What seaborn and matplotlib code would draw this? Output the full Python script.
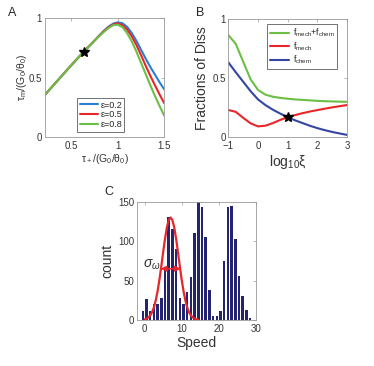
import numpy as np
import matplotlib
matplotlib.use("Agg")
import matplotlib.pyplot as plt
import seaborn as sns
import pandas as pd

sns.set_style("white")
plt.rcParams['font.family'] = ['Liberation Sans', 'DejaVu Sans']
plt.rcParams['mathtext.fontset'] = 'custom'
plt.rcParams['mathtext.rm'] = 'Liberation Sans'
plt.rcParams['mathtext.it'] = 'Liberation Sans:italic'
plt.rcParams['mathtext.sf'] = 'Liberation Sans'

# ---- panel A data
tau_plus = [0.2, 0.25, 0.3, 0.35, 0.4, 0.45, 0.5, 0.55, 0.6, 0.65, 0.7, 0.75,
            0.8, 0.85, 0.9, 0.95, 1.0, 1.05, 1.1, 1.15, 1.2, 1.25, 1.3, 1.35, 1.4, 1.45, 1.5]
tau_rise = [0.342, 0.386, 0.43, 0.474, 0.518, 0.562, 0.605, 0.648, 0.69, 0.732, 0.773, 0.813]
tau_m_02 = tau_rise + [0.855, 0.895, 0.93, 0.955, 0.966, 0.958, 0.928, 0.875, 0.81, 0.735, 0.66, 0.59, 0.525, 0.46, 0.40]
tau_m_05 = tau_rise + [0.853, 0.891, 0.924, 0.948, 0.957, 0.942, 0.905, 0.848, 0.775, 0.69, 0.60, 0.515, 0.435, 0.357, 0.283]
tau_m_08 = tau_rise + [0.85, 0.886, 0.918, 0.942, 0.946, 0.925, 0.875, 0.805, 0.72, 0.625, 0.53, 0.435, 0.345, 0.26, 0.178]
eps_labels = ["ε=0.2", "ε=0.5", "ε=0.8"]
star_a = (0.632, 0.718)

# ---- panel B data
log_xi = [-1, -0.75, -0.5, -0.25, 0, 0.25, 0.5, 0.75, 1, 1.25, 1.5, 1.75, 2, 2.25, 2.5, 2.75, 3]
f_total = [0.865, 0.79, 0.64, 0.49, 0.40, 0.36, 0.343, 0.333, 0.326, 0.32, 0.316, 0.312, 0.308, 0.305, 0.303, 0.301, 0.30]
f_mech = [0.231, 0.215, 0.165, 0.118, 0.092, 0.098, 0.12, 0.147, 0.17, 0.188, 0.204, 0.218, 0.23, 0.242, 0.253, 0.263, 0.273]
f_chem = [0.634, 0.55, 0.47, 0.39, 0.32, 0.272, 0.233, 0.2, 0.17, 0.143, 0.12, 0.097, 0.077, 0.06, 0.045, 0.032, 0.02]
star_b = (1.0, 0.174)

# ---- panel C data
speed_bins = [-0.5, 0.5, 1.5, 2.5, 3.5, 4.5, 5.5, 6.5, 7.5, 8.5, 9.5, 10.5, 11.5, 12.5, 13.5,
              14.5, 15.5, 16.5, 17.5, 18.5, 19.5, 20.5, 21.5, 22.5, 23.5, 24.5, 25.5, 26.5, 27.5, 28.5]
counts = [11, 26, 12, 20, 20, 28, 63, 130, 115, 90, 28, 20, 36, 55, 110,
          150, 143, 105, 38, 5, 5, 12, 75, 143, 145, 103, 56, 31, 13, 3]
fit_x = [0, 0.5, 1, 1.5, 2, 2.5, 3, 3.5, 4, 4.5, 5, 5.5, 6, 6.5, 7,
         7.5, 8, 8.5, 9, 9.5, 10, 10.5, 11, 11.5, 12, 12.5, 13, 13.5, 14, 14.5]
fit_y = [0.8, 1.7, 3.2, 5.7, 9.8, 16.0, 24.9, 36.7, 51.3, 68.2, 86.0, 103.0, 117.2, 126.7, 130,
         126.7, 117.2, 103.0, 86.0, 68.2, 51.3, 36.7, 24.9, 16.0, 9.8, 5.7, 3.2, 1.7, 0.8, 0.4]
sigma_span = (4.3, 9.8, 65)

blue_a, red_a, green_a = '#2a7fd0', '#e8262a', '#6cbf45'
blue_b, red_b, green_b = '#3445a3', '#e8262a', '#6cbf45'
navy = '#232370'
edge = '#9a9a9a'


def style_ax(ax, lsize=7):
    for s in ax.spines.values():
        s.set_color(edge)
        s.set_linewidth(0.6)
    ax.tick_params(direction='in', top=True, right=True, length=2.5, width=0.5,
                   color=edge, labelcolor='#333333', labelsize=lsize, pad=2)
    ax.tick_params(axis='x', pad=3)


fig = plt.figure(figsize=(3.74, 3.66), dpi=100)

# A
axA = fig.add_axes([0.120, 0.6265, 0.319, 0.3235])
for ys, col, lab in zip([tau_m_02, tau_m_05, tau_m_08], [blue_a, red_a, green_a], eps_labels):
    sns.lineplot(x=tau_plus, y=ys, color=col, lw=1.5, label=lab, ax=axA)
axA.plot(*star_a, marker='*', color='black', ms=7, ls='none')
axA.set_xlim(0.213, 1.5)
axA.set_ylim(0, 1)
axA.set_xticks([0.5, 1, 1.5], ['0.5', '1', '1.5'])
axA.set_yticks([0, 0.5, 1], ['0', '0.5', '1'])
style_ax(axA)
axA.set_xlabel(r'$\mathregular{\tau_+/(G_0/\theta_0)}$', fontsize=7.5, color='#333333', labelpad=1)
axA.set_ylabel(r'$\mathregular{\tau_m/(G_0/\theta_0)}$', fontsize=7.5, color='#333333', labelpad=0)
axA.legend(loc='lower center', bbox_to_anchor=(0.47, 0.02), fontsize=6.5, frameon=True,
           fancybox=False, edgecolor='#333333', handlelength=2.0, handletextpad=0.3,
           borderpad=0.25, labelspacing=0.1, borderaxespad=0.3).get_frame().set_linewidth(0.6)

# B
axB = fig.add_axes([0.6104, 0.6249, 0.318, 0.3232])
sns.lineplot(x=log_xi, y=f_total, color=green_b, lw=1.5,
             label=r'f$_{\mathregular{mech}}$+f$_{\mathregular{chem}}$', ax=axB)
sns.lineplot(x=log_xi, y=f_mech, color=red_b, lw=1.5, label=r'f$_{\mathregular{mech}}$', ax=axB)
sns.lineplot(x=log_xi, y=f_chem, color=blue_b, lw=1.5, label=r'f$_{\mathregular{chem}}$', ax=axB)
axB.plot(*star_b, marker='*', color='black', ms=7, ls='none')
axB.set_xlim(-1, 3)
axB.set_ylim(0, 1)
axB.set_xticks([-1, 0, 1, 2, 3])
axB.set_yticks([0, 0.5, 1], ['0', '0.5', '1'])
style_ax(axB)
axB.set_xlabel(r'log$_{10}$ξ', fontsize=10, color='#333333', labelpad=1)
axB.set_ylabel('Fractions of Diss', fontsize=10, color='#333333', labelpad=2)
axB.legend(loc='upper right', bbox_to_anchor=(0.93, 0.97), fontsize=6.3, frameon=True,
           fancybox=False, edgecolor='#333333', handlelength=2.2, handletextpad=0.4,
           borderpad=0.3, labelspacing=0.1, borderaxespad=0.2).get_frame().set_linewidth(0.6)

# C
axC = fig.add_axes([0.367, 0.1257, 0.3166, 0.3232])
hist_df = pd.DataFrame({'speed': speed_bins, 'count': counts})
bin_edges = [b - 0.5 for b in speed_bins] + [speed_bins[-1] + 0.5]
sns.histplot(data=hist_df, x='speed', weights='count', bins=bin_edges, shrink=0.68, color=navy,
             alpha=1, edgecolor='none', linewidth=0, ax=axC)
sns.lineplot(x=fit_x, y=fit_y, color=red_b, lw=1.6, ax=axC)
axC.annotate('', xy=(sigma_span[0], sigma_span[2]), xytext=(sigma_span[1], sigma_span[2]),
             arrowprops=dict(arrowstyle='<|-|>', color=red_b, lw=1.2, mutation_scale=8,
                             shrinkA=0, shrinkB=0))
axC.text(-0.4, 67, r'$\sigma_\omega$', fontsize=10, color='#333333')
axC.set_xlim(-2, 30)
axC.set_ylim(0, 150)
axC.set_xticks([0, 10, 20, 30])
axC.set_yticks([0, 50, 100, 150])
style_ax(axC)
axC.set_xlabel('Speed', fontsize=10, color='#333333', labelpad=1)
axC.set_ylabel('count', fontsize=10, color='#333333', labelpad=3)

fig.text(8 / 374, 1 - 13 / 366, 'A', fontsize=9, va='center', ha='left')
fig.text(196 / 374, 1 - 13 / 366, 'B', fontsize=9, va='center', ha='left')
fig.text(104 / 374, 1 - 192 / 366, 'C', fontsize=9, va='center', ha='left')

fig.savefig('out.png', dpi=100)
